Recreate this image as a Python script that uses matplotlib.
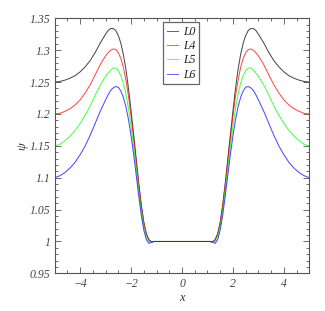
import numpy as np
import matplotlib
matplotlib.use("Agg")
import matplotlib.pyplot as plt
from matplotlib.ticker import MultipleLocator

# right half (x >= 0); curves are symmetric about x = 0
x_half = [0.0, 0.5, 1.0, 1.1, 1.2, 1.3, 1.4, 1.5, 1.6, 1.7, 1.8, 1.9, 2.0, 2.1, 2.2,
          2.3, 2.4, 2.5, 2.6, 2.7, 2.8, 2.9, 3.0, 3.2, 3.4, 3.6, 3.8, 4.0, 4.2, 4.4,
          4.6, 4.8, 5.0]
L0 = [1.0, 1.0, 1.0, 1.0, 0.9995, 1.003, 1.012, 1.030, 1.058, 1.092, 1.130, 1.168, 1.205,
      1.240, 1.270, 1.293, 1.311, 1.323, 1.331, 1.334, 1.334, 1.331, 1.325, 1.312, 1.297,
      1.284, 1.274, 1.266, 1.260, 1.256, 1.253, 1.251, 1.250]
L4 = [1.0, 1.0, 1.0, 1.0, 0.9993, 1.002, 1.012, 1.030, 1.057, 1.090, 1.127, 1.163, 1.197,
      1.228, 1.253, 1.273, 1.287, 1.296, 1.301, 1.302, 1.300, 1.296, 1.291, 1.278, 1.262,
      1.246, 1.233, 1.222, 1.214, 1.208, 1.204, 1.201, 1.200]
L5 = [1.0, 1.0, 1.0, 1.0, 0.999, 1.000, 1.008, 1.025, 1.050, 1.082, 1.117, 1.150, 1.181,
      1.208, 1.231, 1.248, 1.260, 1.268, 1.272, 1.272, 1.269, 1.264, 1.259, 1.246, 1.230,
      1.213, 1.198, 1.185, 1.174, 1.165, 1.158, 1.152, 1.150]
L6 = [1.0, 1.0, 1.0, 1.0, 0.999, 0.997, 1.003, 1.018, 1.042, 1.072, 1.105, 1.137, 1.166,
      1.191, 1.211, 1.226, 1.236, 1.242, 1.243, 1.241, 1.237, 1.230, 1.222, 1.205, 1.186,
      1.167, 1.150, 1.136, 1.124, 1.115, 1.108, 1.103, 1.100]
labels = ["L0", "L4", "L5", "L6"]
colors = ["#000000", "#ff0000", "#00ff00", "#0000ff"]

def full(xs, ys):
    xs = np.asarray(xs); ys = np.asarray(ys)
    return np.concatenate([-xs[::-1], xs[1:]]), np.concatenate([ys[::-1], ys[1:]])

plt.rcParams['font.family'] = ['Liberation Serif', 'DejaVu Serif']
plt.rcParams['axes.unicode_minus'] = True

fig = plt.figure(figsize=(3.25, 3.11), dpi=100)
ax = fig.add_axes([0.168, 0.121, 0.784, 0.820])

for ys, lab, c in zip([L0, L4, L5, L6], labels, colors):
    xx, yy = full(x_half, ys)
    ax.plot(xx, yy, color=c, lw=0.75, label=lab, alpha=0.7)

ax.set_xlim(-5, 5)
ax.set_ylim(0.95, 1.35)
ax.xaxis.set_minor_locator(MultipleLocator(0.5))
ax.yaxis.set_minor_locator(MultipleLocator(0.01))
ax.set_yticks([0.95, 1.0, 1.05, 1.1, 1.15, 1.2, 1.25, 1.3, 1.35])
ax.set_yticklabels(["0.95", "1", "1.05", "1.1", "1.15", "1.2", "1.25", "1.3", "1.35"])
ax.set_xticks([-4, -2, 0, 2, 4])
ax.set_xticklabels(["\u22124", "\u22122", "0", "2", "4"])
for side in ax.spines.values():
    side.set_color("#555555")
    side.set_linewidth(0.8)
ax.tick_params(which='both', direction='in', top=True, right=True, colors="#555555",
               labelcolor="#444444", width=0.6)
ax.tick_params(which='major', length=4.5, labelsize=8.5, pad=3)
ax.tick_params(which='minor', length=2.5)
for t in ax.get_xticklabels() + ax.get_yticklabels():
    t.set_fontstyle('italic')

ax.set_xlabel("x", fontstyle='italic', fontsize=9, color="#333333", labelpad=2)
ax.set_ylabel("\u03c8", fontstyle='italic', fontsize=9, color="#333333", labelpad=1)

leg = ax.legend(loc='upper left', bbox_to_anchor=(0.426, 0.985), fontsize=8.5,
                handlelength=1.0, handletextpad=0.4, borderpad=0.3, labelspacing=0.2,
                borderaxespad=0.0, fancybox=False, framealpha=1, edgecolor="#666666")
leg.get_frame().set_linewidth(0.9)
for line in leg.get_lines():
    line.set_alpha(0.6)
for t in leg.get_texts():
    t.set_fontstyle('italic')
    t.set_color("#222222")

fig.savefig("out.png", dpi=100)
